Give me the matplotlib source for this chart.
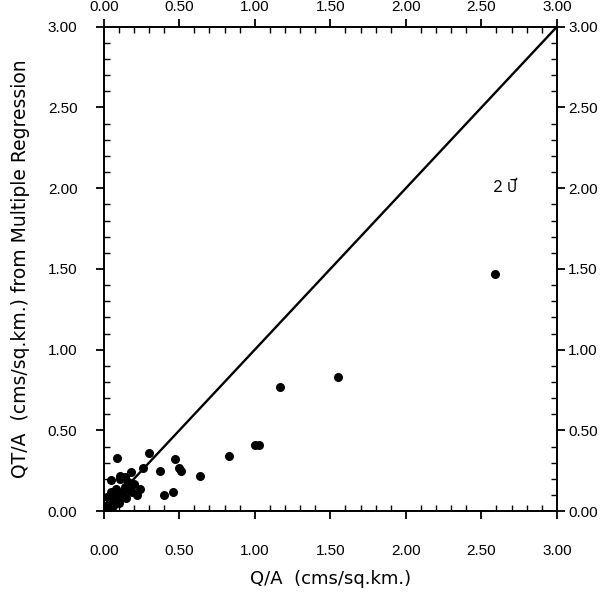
import matplotlib
matplotlib.use("Agg")
import matplotlib.pyplot as plt
from matplotlib.ticker import MultipleLocator, FormatStrFormatter
from matplotlib.transforms import ScaledTranslation
from matplotlib import font_manager

# observed Q/A and computed QT/A (cms/sq.km.)
q_obs = [2.59, 1.55, 1.17, 1.00, 1.03, 0.83, 0.64, 0.47, 0.50, 0.51, 0.37, 0.30,
         0.09, 0.11, 0.18, 0.26, 0.24, 0.40, 0.46,
         0.05, 0.11, 0.14, 0.19, 0.09, 0.04, 0.01, 0.13, 0.22,
         0.02, 0.03, 0.06, 0.07, 0.10, 0.12, 0.15, 0.16, 0.08, 0.02, 0.05, 0.14, 0.20, 0.17]
qt_reg = [1.47, 0.83, 0.77, 0.41, 0.41, 0.34, 0.22, 0.32, 0.27, 0.25, 0.25, 0.36,
          0.33, 0.22, 0.24, 0.27, 0.14, 0.10, 0.12,
          0.19, 0.20, 0.15, 0.12, 0.08, 0.06, 0.03, 0.09, 0.10,
          0.01, 0.04, 0.03, 0.10, 0.05, 0.12, 0.08, 0.18, 0.14, 0.09, 0.12, 0.21, 0.17, 0.13]
line_x = [0, 3]
note = "2 ปี"

thai = [f.name for f in font_manager.fontManager.ttflist if "thai" in f.name.lower()]

plt.rcParams['font.family'] = ['Liberation Sans', 'DejaVu Sans']

fig = plt.figure(figsize=(6.14, 5.95), dpi=100)
ax = fig.add_axes([0.169, 0.141, 0.738, 0.814])

ax.plot(line_x, line_x, color="black", linewidth=1.7)
ax.scatter(q_obs, qt_reg, s=30, color="black", zorder=3)
ax.text(2.58, 2.01, note, fontsize=12, va="center",
        family=thai[:1] + ['Liberation Sans', 'DejaVu Sans'])

ax.set_xlim(0, 3)
ax.set_ylim(0, 3)
for a in (ax.xaxis, ax.yaxis):
    a.set_major_locator(MultipleLocator(0.5))
    a.set_minor_locator(MultipleLocator(0.1))
    a.set_major_formatter(FormatStrFormatter("%.2f"))

ax.tick_params(which="major", direction="out", length=6, width=1.3, labelsize=11,
               top=True, right=True, labeltop=True, labelright=True)
ax.tick_params(axis="x", which="major", pad=3)
ax.tick_params(axis="y", which="major", pad=2)
ax.tick_params(which="minor", direction="in", length=4, width=1.0, top=True, right=True)
for s in ax.spines.values():
    s.set_linewidth(1.4)

# bottom and left labels sit further from the frame than top and right ones
down = ScaledTranslation(0, -15 / 72, fig.dpi_scale_trans)
left = ScaledTranslation(-11 / 72, 0, fig.dpi_scale_trans)
for t in ax.xaxis.get_major_ticks():
    t.label1.set_transform(t.label1.get_transform() + down)
for t in ax.yaxis.get_major_ticks():
    t.label1.set_transform(t.label1.get_transform() + left)

ax.set_xlabel("Q/A  (cms/sq.km.)", fontsize=13, family="DejaVu Sans", labelpad=8)
ax.set_ylabel("QT/A  (cms/sq.km.) from Multiple Regression", fontsize=13.5,
              family="DejaVu Sans", labelpad=13)

fig.savefig("out.png", dpi=100)
